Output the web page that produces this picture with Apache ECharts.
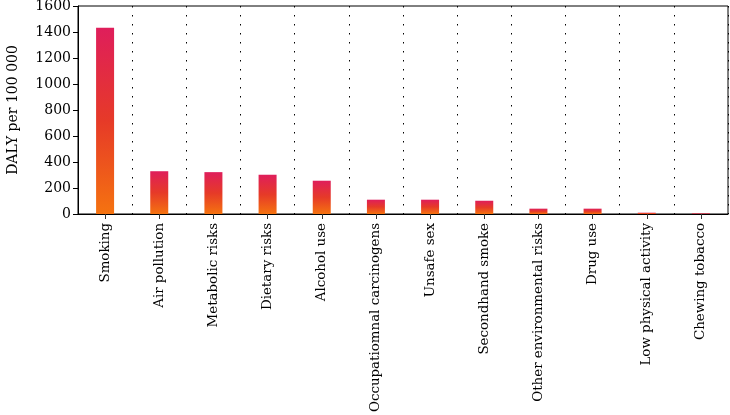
<!DOCTYPE html>
<html><head><meta charset="utf-8">
<script src="https://cdn.jsdelivr.net/npm/echarts@6/dist/echarts.min.js"></script>
<style>html,body{margin:0;padding:0;background:#fff}#c{width:730px;height:415px}</style>
</head><body><div id="c"></div>
<script>
const categories = ['Smoking','Air pollution','Metabolic risks','Dietary risks','Alcohol use','Occupatiomnal carcinogens','Unsafe sex','Secondhand smoke','Other environmental risks','Drug use','Low physical activity','Chewing tobacco'];
const values = [1432, 329, 322, 302, 256, 110, 110, 102, 41, 41, 10, 5];
const yTicks = {min: 0, max: 1600, interval: 200};
const font = 'DejaVu Serif';
const chart = echarts.init(document.getElementById('c'));
chart.setOption({
  animation: false,
  grid: {left: 78, right: 2, top: 6, bottom: 201, outerBoundsMode: 'none', containLabel: false, show: true, borderColor: '#000', borderWidth: 1, backgroundColor: 'transparent'},
  xAxis: {
    type: 'category', data: categories,
    axisLine: {lineStyle: {color: '#000', width: 1}},
    axisTick: {show: true, alignWithLabel: true, length: 5, lineStyle: {color: '#333'}},
    axisLabel: {rotate: 90, interval: 0, margin: 9, fontFamily: font, fontSize: 13.4, color: '#000'},
    splitLine: {show: true, lineStyle: {type: [1.5, 7.5], color: '#000', width: 1}}
  },
  yAxis: {
    type: 'value', min: yTicks.min, max: yTicks.max, interval: yTicks.interval,
    name: 'DALY per 100 000', nameLocation: 'middle', nameGap: 58,
    nameTextStyle: {fontFamily: font, fontSize: 14, color: '#000'},
    axisLine: {show: true, lineStyle: {color: '#000', width: 1}},
    axisTick: {show: true, length: 5, lineStyle: {color: '#000'}},
    axisLabel: {fontFamily: font, fontSize: 14, color: '#000', margin: 7, formatter: v => String(v)},
    splitLine: {show: false}
  },
  series: [{
    type: 'bar', data: values, barWidth: 18,
    itemStyle: {color: new echarts.graphic.LinearGradient(0, 0, 0, 1, [
      {offset: 0, color: '#df1e5b'},
      {offset: 0.5, color: '#e63a28'},
      {offset: 1, color: '#f57310'}
    ])}
  }]
});
</script></body></html>
